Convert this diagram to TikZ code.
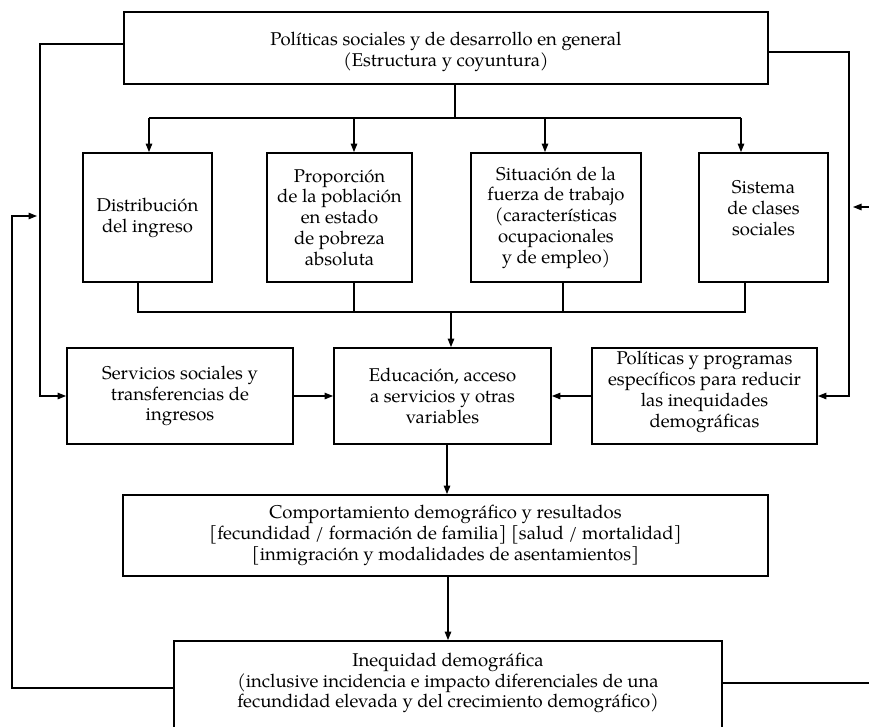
\documentclass[tikz,border=0pt]{standalone}
\usepackage{fontspec}
\setmainfont{TeX Gyre Pagella}
\usetikzlibrary{arrows.meta}
\newcommand\boxfont{\fontsize{18.5}{20.8}\selectfont}
\tikzset{
  box/.style={draw, line width=1.8pt, rectangle, inner sep=0pt,
              align=center, font=\boxfont},
  label text/.style={inner sep=0pt, align=center, font=\boxfont},
  link/.style={line width=1.2pt},
  arr/.style={link, -{Triangle[length=8.5pt,width=6.5pt]}},
}
\begin{document}
\begin{tikzpicture}[x=1pt, y=-1pt]
\useasboundingbox (0,0) rectangle (869,726);
\clip (0,0) rectangle (869,726);

% top box
\node[box, minimum width=644pt, minimum height=72pt] (pol) at (446,48) {};
\node[label text] (pol-t) at (446,52)
  {Políticas sociales y de desarrollo en general\\(Estructura y coyuntura)};

% row of four structural boxes
\node[box, minimum width=129pt, minimum height=129pt] (dist) at (147.5,217.5)
  {Distribución\\del ingreso};
\node[box, minimum width=145pt, minimum height=129pt] (prop) at (339.5,217.5)
  {Proporción\\de la población\\en estado\\de pobreza\\absoluta};
\node[box, minimum width=170pt, minimum height=129pt] (sit) at (556,217.5)
  {Situación de la\\fuerza de trabajo\\(características\\ocupacionales\\y de empleo)};
\node[box, minimum width=129pt, minimum height=129pt] (sis) at (763.5,217.5) {};
\node[label text] (sis-t) at (763.5,208) {Sistema\\de clases\\sociales};

% middle row
\node[box, minimum width=226pt, minimum height=96pt] (serv) at (180,396)
  {Servicios sociales y\\transferencias de\\ingresos};
\node[box, minimum width=217pt, minimum height=96pt] (edu) at (442.5,396)
  {Educación, acceso\\a servicios y otras\\variables};
\node[box, minimum width=225pt, minimum height=96pt] (prog) at (704.5,396) {};
\node[label text] (prog-t) at (704.5,392)
  {Políticas y programas\\específicos para reducir\\las inequidades\\demográficas};

% outcomes
\node[box, minimum width=645pt, minimum height=81pt] (comp) at (445.5,535.5)
  {Comportamiento demográfico y resultados\\
   {[}fecundidad / formación de familia] [salud / mortalidad]\\
   {[}inmigración y modalidades de asentamientos]};
\node[box, minimum width=548pt, minimum height=90pt] (ineq) at (448,686) {};
\node[label text] (ineq-t) at (448,683)
  {Inequidad demográfica\\
   (inclusive incidencia e impacto diferenciales de una\\
   fecundidad elevada y del crecimiento demográfico)};

% branching from the top box to the four boxes
\coordinate (top-j) at (455,118);
\coordinate (b1) at (149,118);
\coordinate (b2) at (354,118);
\coordinate (b3) at (545,118);
\coordinate (b4) at (741,118);
\draw[link] (pol.south -| top-j) -- (top-j);
\draw[link] (b1) -- (b4);
\draw[arr] (b1) -- (b1 |- dist.north);
\draw[arr] (b2) -- (b2 |- prop.north);
\draw[arr] (b3) -- (b3 |- sit.north);
\draw[arr] (b4) -- (b4 |- sis.north);

% joining the four boxes into the central box
\coordinate (u1) at (138,312);
\coordinate (u2) at (354,312);
\coordinate (u3) at (563,312);
\coordinate (u4) at (745,312);
\coordinate (mid) at (451,312);
\draw[link] (dist.south -| u1) -- (u1) -- (u4) -- (sis.south -| u4);
\draw[link] (prop.south -| u2) -- (u2);
\draw[link] (sit.south -| u3) -- (u3);
\draw[arr] (mid) -- (mid |- edu.north);

% middle row arrows
\draw[arr] (serv.east) -- (edu.west);
\draw[arr] (prog.west) -- (edu.east);

% vertical chain
\coordinate (c1) at (447,0);
\coordinate (c2) at (448,0);
\draw[arr] (edu.south -| c1) -- (comp.north -| c1);
\draw[arr] (comp.south -| c2) -- (ineq.north -| c2);

% loops from the top box
\coordinate (L1) at (40,44);
\coordinate (R1) at (849,52);
\draw[arr] (L1 -| pol.west) -- (L1) |- (serv.west);
\draw[arr] (R1 -| pol.east) -- (R1) |- (prog.east);

% feedback from demographic inequity
\coordinate (OL) at (12,688);
\coordinate (OL-top) at (12,216);
\coordinate (OL-tip) at (37,216);
\draw[arr] (OL -| ineq.west) -- (OL) -- (OL-top) -- (OL-tip);
\coordinate (OR) at (869,683);
\draw[link] (OR -| ineq.east) -- (OR);
\coordinate (OR-in) at (869,207);
\coordinate (OR-tip) at (853,207);
\draw[arr] (OR-in) -- (OR-tip);
\end{tikzpicture}
\end{document}
